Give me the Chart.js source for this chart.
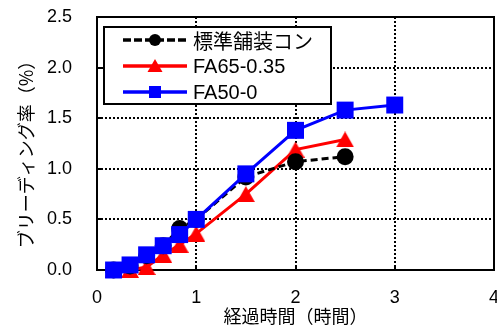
<!DOCTYPE html>
<html>
<head>
<meta charset="utf-8">
<script src="https://cdn.jsdelivr.net/npm/chart.js@4/dist/chart.umd.min.js"></script>
<style>
  html, body { margin: 0; padding: 0; background: #fff; }
  #wrap { width: 497px; height: 333px; }
</style>
</head>
<body>
<div id="wrap"><canvas id="c" width="497" height="333"></canvas></div>
<script>
// Elapsed time (hours) at each measurement
const hours = [0.167, 0.333, 0.5, 0.667, 0.833, 1, 1.5, 2, 2.5, 3];
const seriesNames = ['標準舗装コン', 'FA65-0.35', 'FA50-0'];
// Bleeding rate (%) per mix
const standardRate = [0, 0.04, 0.14, 0.24, 0.41, 0.50, 0.92, 1.07, 1.12];
const fa65Rate = [0, 0, 0.03, 0.15, 0.25, 0.36, 0.75, 1.19, 1.29];
const fa50Rate = [0, 0.05, 0.15, 0.24, 0.35, 0.50, 0.95, 1.38, 1.58, 1.63];
const xTickValues = [0, 1, 2, 3, 4];
const yTickValues = [0, 0.5, 1, 1.5, 2, 2.5];
const xTitle = '経過時間（時間）';
const yTitle = 'ブリーディング率（%）';

const LATIN = "'Liberation Sans', Arial, 'Noto Sans CJK JP', sans-serif";
const CJK = "'Noto Sans CJK JP', 'Liberation Sans', sans-serif";

function pts(xs, ys) { return ys.map((y, i) => ({ x: xs[i], y })); }

// Upright triangle marker centred on its box
function triangleMarker(w, h, color) {
  const c = document.createElement('canvas');
  c.width = w; c.height = h;
  const g = c.getContext('2d');
  g.fillStyle = color;
  g.beginPath();
  g.moveTo(w / 2, 0); g.lineTo(w, h); g.lineTo(0, h); g.closePath();
  g.fill();
  return c;
}

const styles = [
  { color: '#000000', dash: [7, 4], marker: 'circle' },
  { color: '#ff0000', dash: [], marker: 'triangle' },
  { color: '#0000ff', dash: [], marker: 'rect' }
];

const framePlugin = {
  id: 'frame',
  beforeDatasetsDraw(chart) {
    const { ctx, chartArea: a, scales } = chart;
    ctx.save();
    ctx.strokeStyle = '#000';
    ctx.lineWidth = 2;
    ctx.strokeRect(a.left, a.top, a.right - a.left, a.bottom - a.top);
    // inward tick marks
    ctx.beginPath();
    xTickValues.forEach(v => {
      const px = Math.round(scales.x.getPixelForValue(v));
      ctx.moveTo(px, a.bottom); ctx.lineTo(px, a.bottom - 5);
    });
    yTickValues.forEach(v => {
      const py = Math.round(scales.y.getPixelForValue(v));
      ctx.moveTo(a.left, py); ctx.lineTo(a.left + 5, py);
    });
    ctx.stroke();
    ctx.restore();
  },
  afterDraw(chart) {
    const { ctx } = chart;
    ctx.save();
    // y-axis title
    ctx.fillStyle = '#000';
    ctx.font = '18px ' + CJK;
    ctx.textAlign = 'center';
    ctx.textBaseline = 'middle';
    ctx.translate(26, 150);
    ctx.rotate(-Math.PI / 2);
    ctx.fillText(yTitle, 0, 0);
    ctx.restore();

    // legend box
    ctx.save();
    const bx = 104, by = 27, bw = 227, bh = 77;
    ctx.fillStyle = '#fff';
    ctx.fillRect(bx, by, bw, bh);
    ctx.strokeStyle = '#000';
    ctx.lineWidth = 2;
    ctx.strokeRect(bx, by, bw, bh);
    const rows = [40, 66, 92];
    const x0 = 123, x1 = 187, mx = 155;
    seriesNames.forEach((name, i) => {
      const s = styles[i], y = rows[i];
      ctx.strokeStyle = s.color;
      ctx.fillStyle = s.color;
      ctx.lineWidth = 3.5;
      ctx.setLineDash(s.dash.length ? [8, 3] : []);
      ctx.beginPath(); ctx.moveTo(x0, y); ctx.lineTo(x1, y); ctx.stroke();
      ctx.setLineDash([]);
      ctx.beginPath();
      if (s.marker === 'circle') {
        ctx.arc(mx, y, 6, 0, Math.PI * 2);
      } else if (s.marker === 'triangle') {
        ctx.moveTo(mx, y - 7); ctx.lineTo(mx + 7.5, y + 6); ctx.lineTo(mx - 7.5, y + 6); ctx.closePath();
      } else {
        ctx.rect(mx - 6, y - 6, 12, 12);
      }
      ctx.fill();
      ctx.fillStyle = '#000';
      ctx.font = '20px ' + (i === 0 ? CJK : LATIN);
      ctx.textAlign = 'left';
      ctx.textBaseline = 'middle';
      ctx.fillText(name, 193, y + 1);
    });
    ctx.restore();
  }
};

Chart.defaults.color = '#000';

new Chart(document.getElementById('c'), {
  type: 'line',
  data: {
    datasets: [
      {
        label: seriesNames[2], data: pts(hours, fa50Rate), order: 0,
        borderColor: styles[2].color, backgroundColor: styles[2].color,
        borderWidth: 3, pointStyle: 'rect', pointRadius: 12, pointBorderWidth: 0,
        pointHoverRadius: 12, clip: false
      },
      {
        label: seriesNames[0], data: pts(hours, standardRate), order: 1,
        borderColor: styles[0].color, backgroundColor: styles[0].color,
        borderWidth: 3, borderDash: styles[0].dash, pointStyle: 'circle',
        pointRadius: 8.5, pointBorderWidth: 0, pointHoverRadius: 8.5, clip: false
      },
      {
        label: seriesNames[1], data: pts(hours, fa65Rate), order: 2,
        borderColor: styles[1].color, backgroundColor: styles[1].color,
        borderWidth: 3, pointStyle: triangleMarker(18, 16, styles[1].color),
        pointRadius: 9, pointBorderWidth: 0, clip: false
      }
    ]
  },
  options: {
    responsive: false,
    animation: false,
    events: [],
    layout: { autoPadding: false, padding: { top: 17, right: 3, left: 0, bottom: 0 } },
    plugins: { legend: { display: false }, tooltip: { enabled: false } },
    scales: {
      x: {
        type: 'linear', min: 0, max: 4,
        afterBuildTicks: s => { s.ticks = xTickValues.map(v => ({ value: v })); },
        afterFit: s => { s.height = 63; s.paddingLeft = 0; s.paddingRight = 0; },
        ticks: { padding: 17, font: { family: LATIN, size: 18 }, color: '#000',
                 callback: v => String(v) },
        grid: { color: '#000', lineWidth: 2, drawTicks: false },
        border: { display: false, dash: [2, 2] },
        title: { display: true, text: xTitle, font: { family: CJK, size: 18 },
                 color: '#000', padding: { top: 0, bottom: 6 } }
      },
      y: {
        type: 'linear', min: 0, max: 2.5,
        afterBuildTicks: s => { s.ticks = yTickValues.map(v => ({ value: v })); },
        afterFit: s => { s.width = 97; s.paddingTop = 0; s.paddingBottom = 0; },
        ticks: { padding: 25, font: { family: LATIN, size: 18 }, color: '#000',
                 callback: v => Number(v).toFixed(1) },
        grid: { color: '#000', lineWidth: 2, drawTicks: false },
        border: { display: false, dash: [2, 2] }
      }
    }
  },
  plugins: [framePlugin]
});
</script>
</body>
</html>
